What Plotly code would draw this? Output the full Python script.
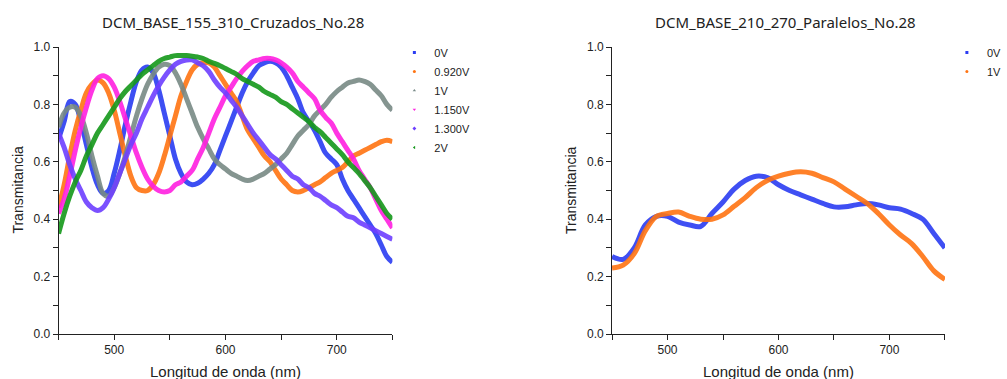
import plotly.graph_objects as go

# ---------------- data ----------------
wl_left = list(range(450, 751, 5))

t_0V = [0.68, 0.74, 0.81, 0.80, 0.74, 0.66, 0.58, 0.52, 0.49, 0.50,
        0.56, 0.64, 0.73, 0.81, 0.88, 0.92, 0.93, 0.91, 0.85, 0.77,
        0.69, 0.61, 0.56, 0.53, 0.52, 0.525, 0.54, 0.56, 0.59, 0.64,
        0.69, 0.74, 0.79, 0.84, 0.88, 0.91, 0.935, 0.945, 0.95, 0.945,
        0.93, 0.90, 0.86, 0.82, 0.77, 0.74, 0.71, 0.67, 0.63, 0.61,
        0.59, 0.54, 0.50, 0.47, 0.44, 0.41, 0.38, 0.35, 0.31, 0.27, 0.25]
t_0920V = [0.44, 0.52, 0.62, 0.71, 0.78, 0.84, 0.87, 0.885, 0.875, 0.84,
           0.78, 0.70, 0.62, 0.55, 0.51, 0.50, 0.50, 0.52, 0.56, 0.62,
           0.69, 0.76, 0.83, 0.88, 0.92, 0.94, 0.945, 0.945, 0.93, 0.90,
           0.87, 0.84, 0.81, 0.76, 0.71, 0.68, 0.65, 0.62, 0.60, 0.57,
           0.54, 0.52, 0.50, 0.495, 0.50, 0.51, 0.52, 0.53, 0.545, 0.56,
           0.57, 0.58, 0.60, 0.62, 0.63, 0.64, 0.65, 0.66, 0.67, 0.675, 0.67]
t_1V = [0.72, 0.77, 0.79, 0.79, 0.76, 0.70, 0.62, 0.55, 0.49, 0.48,
        0.51, 0.56, 0.62, 0.69, 0.76, 0.82, 0.87, 0.905, 0.93, 0.94,
        0.935, 0.91, 0.87, 0.82, 0.77, 0.72, 0.68, 0.645, 0.61, 0.59,
        0.575, 0.56, 0.55, 0.54, 0.535, 0.54, 0.55, 0.56, 0.575, 0.59,
        0.61, 0.63, 0.66, 0.69, 0.71, 0.73, 0.76, 0.78, 0.80, 0.825,
        0.845, 0.86, 0.875, 0.88, 0.885, 0.88, 0.87, 0.85, 0.83, 0.80, 0.78]
t_1150V = [0.42, 0.47, 0.55, 0.64, 0.72, 0.79, 0.85, 0.89, 0.90, 0.89,
           0.86, 0.81, 0.75, 0.69, 0.63, 0.58, 0.54, 0.515, 0.50, 0.495,
           0.50, 0.52, 0.53, 0.55, 0.57, 0.61, 0.65, 0.70, 0.75, 0.79,
           0.83, 0.86, 0.89, 0.915, 0.935, 0.95, 0.955, 0.96, 0.96, 0.955,
           0.945, 0.93, 0.91, 0.88, 0.86, 0.84, 0.82, 0.78, 0.755, 0.735,
           0.70, 0.67, 0.64, 0.61, 0.57, 0.54, 0.51, 0.47, 0.43, 0.40, 0.37]
t_1300V = [0.70, 0.65, 0.59, 0.54, 0.50, 0.46, 0.44, 0.43, 0.44, 0.47,
           0.51, 0.56, 0.61, 0.66, 0.70, 0.75, 0.79, 0.83, 0.865, 0.895,
           0.92, 0.94, 0.95, 0.955, 0.955, 0.945, 0.935, 0.915, 0.885, 0.86,
           0.84, 0.815, 0.79, 0.76, 0.73, 0.70, 0.675, 0.65, 0.625, 0.61,
           0.59, 0.57, 0.55, 0.54, 0.52, 0.51, 0.49, 0.48, 0.465, 0.45,
           0.44, 0.425, 0.41, 0.405, 0.39, 0.38, 0.37, 0.36, 0.35, 0.34, 0.33]
t_2V = [0.35, 0.42, 0.48, 0.53, 0.57, 0.62, 0.66, 0.70, 0.73, 0.76,
        0.79, 0.82, 0.845, 0.865, 0.885, 0.905, 0.92, 0.935, 0.95, 0.96,
        0.965, 0.97, 0.97, 0.97, 0.968, 0.965, 0.96, 0.95, 0.943, 0.935,
        0.925, 0.915, 0.905, 0.89, 0.88, 0.87, 0.86, 0.845, 0.835, 0.825,
        0.81, 0.80, 0.785, 0.77, 0.755, 0.74, 0.72, 0.705, 0.685, 0.665,
        0.645, 0.625, 0.60, 0.58, 0.56, 0.535, 0.51, 0.48, 0.45, 0.42, 0.40]

wl_right = list(range(450, 751, 10))
p_0V = [0.27, 0.26, 0.30, 0.38, 0.41, 0.41, 0.39, 0.38, 0.375, 0.42,
        0.46, 0.505, 0.535, 0.55, 0.545, 0.52, 0.50, 0.485, 0.47, 0.455,
        0.443, 0.443, 0.45, 0.455, 0.45, 0.44, 0.435, 0.42, 0.40, 0.35, 0.30]
p_1V = [0.23, 0.24, 0.28, 0.36, 0.41, 0.42, 0.425, 0.41, 0.40, 0.40,
        0.415, 0.445, 0.475, 0.51, 0.535, 0.55, 0.56, 0.565, 0.56, 0.545,
        0.53, 0.505, 0.48, 0.455, 0.42, 0.38, 0.345, 0.315, 0.27, 0.22, 0.19]

left_names = ["0V", "0.920V", "1V", "1.150V", "1.300V", "2V"]
left_series = [t_0V, t_0920V, t_1V, t_1150V, t_1300V, t_2V]
left_colors = ["#2b3cf2", "#ff7412", "#788a88", "#ff22e0", "#6e40ff", "#14981a"]
left_symbols = ["square", "circle", "triangle-up", "triangle-down", "diamond", "triangle-left"]

right_names = ["0V", "1V"]
right_series = [p_0V, p_1V]
right_colors = ["#2b3cf2", "#ff7412"]
right_symbols = ["square", "circle"]

titles = ["DCM_BASE_155_310_Cruzados_No.28", "DCM_BASE_210_270_Paralelos_No.28"]

# ---------------- figure ----------------
W, H = 1007, 379
fig = go.Figure()

def add_panel(xs, series, names, colors, symbols, xa, ya, legend):
    for ys, n, c, s in zip(series, names, colors, symbols):
        fig.add_trace(go.Scatter(x=xs, y=ys, mode="lines", line=dict(color=c, width=5, shape="spline"),
                                 opacity=0.9, xaxis=xa, yaxis=ya, showlegend=False, hoverinfo="skip"))
        fig.add_trace(go.Scatter(x=[None], y=[None], mode="markers", name=n,
                                 marker=dict(color=c, symbol=s, size=3),
                                 xaxis=xa, yaxis=ya, legend=legend))

add_panel(wl_left, left_series, left_names, left_colors, left_symbols, "x", "y", "legend")
add_panel(wl_right, right_series, right_names, right_colors, right_symbols, "x2", "y2", "legend2")

tickfont = dict(family="Liberation Sans, Arial", size=12, color="#222")
xcommon = dict(range=[450, 750], tick0=0, dtick=100, ticks="outside", ticklen=5, tickwidth=1,
               tickcolor="#222", showline=True, linecolor="#222", linewidth=1, showgrid=False,
               zeroline=False, tickfont=tickfont, automargin=False,
               minor=dict(dtick=50, tick0=0, ticks="outside", ticklen=5, tickcolor="#222", showgrid=False))
ycommon = dict(range=[0, 1.0], tick0=0, dtick=0.2, tickformat=".1f", ticks="outside", ticklen=5,
               tickwidth=1, tickcolor="#222", showline=True, linecolor="#222", linewidth=1,
               showgrid=False, zeroline=False, tickfont=tickfont, automargin=False,
               minor=dict(dtick=0.1, tick0=0, ticks="outside", ticklen=5, tickcolor="#222", showgrid=False))

ydom = [45 / H, 332 / H]
legfont = dict(family="Liberation Sans, Arial", size=11, color="#222")
fig.update_layout(
    width=W, height=H, margin=dict(l=0, r=0, t=0, b=0),
    paper_bgcolor="white", plot_bgcolor="white",
    xaxis=dict(domain=[60 / W, 402 / W], anchor="y", **xcommon),
    yaxis=dict(domain=ydom, anchor="x", **ycommon),
    xaxis2=dict(domain=[627 / W, 968 / W], anchor="y2", **xcommon),
    yaxis2=dict(domain=ydom, anchor="x2", **ycommon),
    legend=dict(x=404 / W, y=1 - 38 / H, xanchor="left", yanchor="top", bgcolor="rgba(0,0,0,0)",
                font=legfont, itemwidth=30, tracegroupgap=0),
    legend2=dict(x=970 / W, y=1 - 38 / H, xanchor="left", yanchor="top", bgcolor="rgba(0,0,0,0)",
                 font=legfont, itemwidth=30, tracegroupgap=0),
    showlegend=True,
)

annots = []
for cx, t in zip([239 / W, 805 / W], titles):
    annots.append(dict(text=t, x=cx, y=1 - 22 / H, xref="paper", yref="paper", showarrow=False,
                       xanchor="center", yanchor="middle",
                       font=dict(family="Noto Sans", size=15, color="#222")))
for cx in [231 / W, 797 / W]:
    annots.append(dict(text="Longitud de onda (nm)", x=cx, y=1 - 371 / H, xref="paper", yref="paper",
                       showarrow=False, xanchor="center", yanchor="middle",
                       font=dict(family="Liberation Sans, Arial", size=15, color="#222")))
for cx in [18 / W, 585 / W]:
    annots.append(dict(text="Transmitancia", x=cx, y=1 - 190 / H, xref="paper", yref="paper",
                       showarrow=False, xanchor="center", yanchor="middle", textangle=-90,
                       font=dict(family="Liberation Sans, Arial", size=14, color="#222")))
fig.update_layout(annotations=annots)

fig.write_html("out.html")
